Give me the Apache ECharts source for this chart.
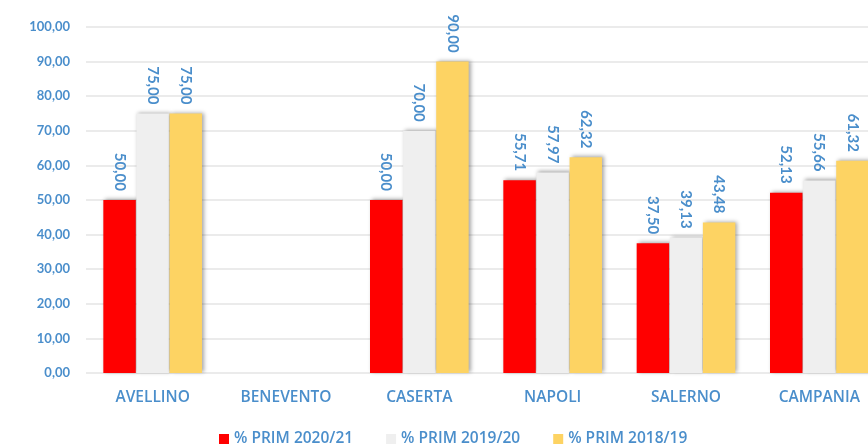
<!DOCTYPE html>
<html>
<head>
<meta charset="utf-8">
<script src="https://cdn.jsdelivr.net/npm/echarts@6/dist/echarts.min.js"></script>
<style>
  html, body { margin: 0; padding: 0; background: #fff; }
  #chart { width: 868px; height: 445px; }
</style>
</head>
<body>
<div id="chart"></div>
<script>
var categories = ["AVELLINO", "BENEVENTO", "CASERTA", "NAPOLI", "SALERNO", "CAMPANIA"];
var seriesNames = ["% PRIM 2020/21", "% PRIM 2019/20", "% PRIM 2018/19"];
var prim2021 = [50.0, null, 50.0, 55.71, 37.5, 52.13];
var prim1920 = [75.0, null, 70.0, 57.97, 39.13, 55.66];
var prim1819 = [75.0, null, 90.0, 62.32, 43.48, 61.32];
var colors = ["#FF0000", "#EFEFEF", "#FDD363"];

var blue = "#4A8ECB";
var fmt = function (v) {
  return Number(v).toFixed(2).replace(".", ",");
};

function makeSeries(name, data, color) {
  return {
    name: name,
    type: "bar",
    data: data,
    barGap: "2%",
    barCategoryGap: "26%",
    itemStyle: {
      color: color,
      shadowColor: "rgba(0,0,0,0.35)",
      shadowBlur: 4,
      shadowOffsetX: 2,
      shadowOffsetY: -1
    },
    label: {
      show: true,
      position: "top",
      rotate: -90,
      align: "right",
      verticalAlign: "middle",
      distance: 9,
      color: blue,
      fontFamily: "Lato",
      fontWeight: "bold",
      fontSize: 15,
      formatter: function (p) { return fmt(p.value); }
    }
  };
}

var myChart = echarts.init(document.getElementById("chart"));
var option = {
  animation: false,
  color: colors,
  grid: { left: 86, width: 800, top: 27, bottom: 72, outerBoundsMode: "none" },
  legend: {
    top: 426,
    left: 214,
    itemWidth: 10,
    itemHeight: 10,
    itemGap: 33,
    icon: "rect",
    textStyle: { color: blue, fontFamily: "Open Sans", fontWeight: 600, fontSize: 15.5 },
    data: seriesNames
  },
  xAxis: {
    type: "category",
    data: categories,
    axisLine: { show: false },
    axisTick: { show: false },
    axisLabel: { color: blue, fontFamily: "Open Sans", fontWeight: 600, fontSize: 15.5, margin: 17 }
  },
  yAxis: {
    type: "value",
    min: 0,
    max: 100,
    interval: 10,
    axisLine: { show: false },
    axisTick: { show: false },
    splitLine: { lineStyle: { color: "#E4E4E4", width: 1.5 } },
    axisLabel: {
      color: blue,
      fontFamily: "Lato",
      fontWeight: "bold",
      fontSize: 13,
      margin: 16,
      formatter: fmt
    }
  },
  series: [
    makeSeries(seriesNames[0], prim2021, colors[0]),
    makeSeries(seriesNames[1], prim1920, colors[1]),
    makeSeries(seriesNames[2], prim1819, colors[2])
  ]
};
myChart.setOption(option);
</script>
</body>
</html>
